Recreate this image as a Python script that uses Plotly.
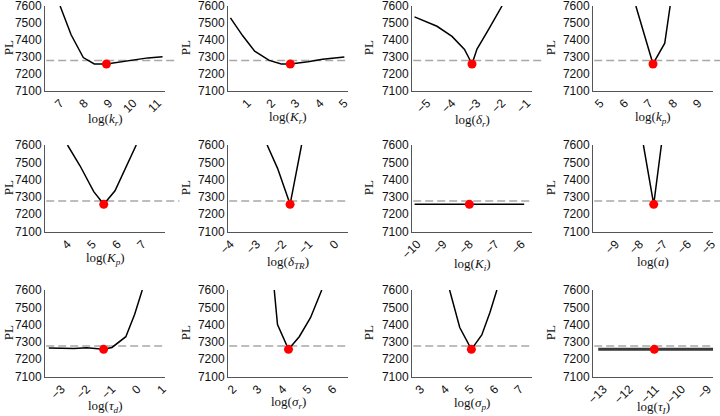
import plotly.graph_objects as go

# ---------------- data ----------------
PL_MIN = 7257
PL_THRESHOLD = 7277

kr_x = [7.0, 7.45, 7.95, 8.4, 8.9, 9.5, 10.1, 10.6, 11.2]
kr_y = [7600, 7430, 7295, 7257, 7257, 7270, 7285, 7293, 7300]
kr_opt = 8.9

Kr_x = [0.3, 0.8, 1.3, 1.9, 2.4, 2.77, 3.5, 4.1, 5.0]
Kr_y = [7530, 7425, 7333, 7278, 7257, 7257, 7270, 7285, 7298]
Kr_opt = 2.77

dr_x = [-5.5, -4.6, -4.0, -3.5, -3.2, -3.0, -2.5, -2.0]
dr_y = [7536, 7480, 7420, 7343, 7257, 7345, 7470, 7600]
dr_opt = -3.2

kp_x = [6.45, 7.15, 7.63, 7.85]
kp_y = [7600, 7257, 7380, 7600]
kp_opt = 7.15

Kp_x = [4.0, 4.5, 5.05, 5.45, 5.9, 6.35, 6.75]
Kp_y = [7600, 7480, 7330, 7257, 7335, 7470, 7600]
Kp_opt = 5.45

dTR_x = [-2.6, -2.2, -1.72, -1.28]
dTR_y = [7600, 7465, 7257, 7600]
dTR_opt = -1.72

Ki_x = [-10.1, -9.0, -8.0, -7.0, -5.9]
Ki_y = [7257, 7257, 7257, 7257, 7257]
Ki_opt = -8.0

a_x = [-7.85, -7.42, -7.1]
a_y = [7600, 7257, 7600]
a_opt = -7.42

td_x = [-3.5, -3.0, -2.5, -2.0, -1.5, -1.33, -1.0, -0.45, -0.1, 0.2]
td_y = [7265, 7263, 7262, 7266, 7258, 7257, 7268, 7330, 7460, 7600]
td_opt = -1.33

sr_x = [3.65, 3.78, 4.22, 4.65, 5.1, 5.55]
sr_y = [7600, 7400, 7257, 7330, 7440, 7600]
sr_opt = 4.22

sp_x = [4.17, 4.58, 5.05, 5.47, 5.8, 6.08]
sp_y = [7600, 7383, 7257, 7340, 7470, 7600]
sp_opt = 5.05

tI_x = [-13.2, -12.0, -11.0, -10.0, -8.8]
tI_y = [7257, 7257, 7257, 7257, 7257]
tI_opt = -11.05

y_ticks = [7100, 7200, 7300, 7400, 7500, 7600]
y_title = "PL"

titles = ["log(<i>k<sub>r</sub></i>)", "log(<i>K<sub>r</sub></i>)", "log(<i>δ<sub>r</sub></i>)", "log(<i>k<sub>p</sub></i>)",
          "log(<i>K<sub>p</sub></i>)", "log(<i>δ<sub>TR</sub></i>)", "log(<i>K<sub>i</sub></i>)", "log(<i>a</i>)",
          "log(<i>τ<sub>d</sub></i>)", "log(<i>σ<sub>r</sub></i>)", "log(<i>σ<sub>p</sub></i>)", "log(<i>τ<sub>I</sub></i>)"]
x_tickvals = [[7, 8, 9, 10, 11], [1, 2, 3, 4, 5], [-5, -4, -3, -2, -1], [5, 6, 7, 8, 9],
              [4, 5, 6, 7], [-4, -3, -2, -1, 0], [-10, -9, -8, -7, -6], [-9, -8, -7, -6, -5],
              [-3, -2, -1, 0, 1], [2, 3, 4, 5, 6], [3, 4, 5, 6, 7], [-13, -12, -11, -10, -9]]

series = [(kr_x, kr_y, kr_opt), (Kr_x, Kr_y, Kr_opt), (dr_x, dr_y, dr_opt), (kp_x, kp_y, kp_opt),
          (Kp_x, Kp_y, Kp_opt), (dTR_x, dTR_y, dTR_opt), (Ki_x, Ki_y, Ki_opt), (a_x, a_y, a_opt),
          (td_x, td_y, td_opt), (sr_x, sr_y, sr_opt), (sp_x, sp_y, sp_opt), (tI_x, tI_y, tI_opt)]

# ---------------- layout / style ----------------
W, H = 720, 416
x_ranges = [[6.38, 11.3], [0.2, 5.15], [-5.6, -0.8], [4.7, 9.6],
            [3.1, 7.9], [-4.1, 0.5], [-10.2, -5.6], [-9.95, -4.95],
            [-3.65, 1.1], [1.8, 6.6], [2.65, 7.5], [-13.4, -8.8]]
dash_end = [1.11, 1.0, 1.08, 1.06, 1.12, 1.0, 0.98, 1.06, 1.0, 1.0, 1.0, 0.98]
title_off = [29, 27, 30, 27, 27, 31, 33, 30, 30, 25.5, 27, 31]
pl_off = [37, 43, 44, 43]
col_left = [45, 228, 412, 593]
col_w = 120
row_top = [6, 145, 290]
row_h = 86.5

fig = go.Figure()
shapes = []
annotations = []
tick_font = dict(family="Liberation Sans, Arial, sans-serif", size=12, color="#111")
title_font = dict(family="Liberation Serif, DejaVu Serif, serif", size=13, color="#111")

for i, (xs, ys, xo) in enumerate(series):
    r, c = divmod(i, 4)
    n = "" if i == 0 else str(i + 1)
    xd = [col_left[c] / W, (col_left[c] + col_w) / W]
    top = row_top[r]
    h = row_h - (2 if r == 0 else 0)
    yd = [1 - (top + h) / H, 1 - top / H]
    thick = i == 11
    fig.add_trace(go.Scatter(x=xs, y=ys, mode="lines",
                             line=dict(color="#3a3a3a" if thick else "black", width=3 if thick else 1.5),
                             xaxis="x" + n, yaxis="y" + n, showlegend=False, hoverinfo="skip"))
    fig.add_trace(go.Scatter(x=[xo], y=[PL_MIN], mode="markers",
                             marker=dict(color="#ff0000", size=9),
                             xaxis="x" + n, yaxis="y" + n, showlegend=False, hoverinfo="skip"))
    shapes.append(dict(type="line", xref=f"x{n} domain", yref="y" + n, x0=0.01, x1=dash_end[i],
                       y0=PL_THRESHOLD, y1=PL_THRESHOLD,
                       line=dict(color="#a8a8a8", width=1.5, dash="8px,4px"), layer="below"))
    annotations.append(dict(text=titles[i], xref=f"x{n} domain", yref=f"y{n} domain", x=0.5, y=0,
                            yshift=-title_off[i], xanchor="center", yanchor="middle",
                            showarrow=False, font=title_font))
    annotations.append(dict(text=y_title, xref=f"x{n} domain", yref=f"y{n} domain", x=0, y=0.5,
                            xshift=-pl_off[c], xanchor="center", yanchor="middle", textangle=-90,
                            showarrow=False, font=title_font))
    fig.layout["xaxis" + n] = dict(domain=xd, anchor="y" + n, range=x_ranges[i], tickvals=x_tickvals[i],
                                   tickangle=-45, showline=True, linecolor="#555", linewidth=1,
                                   showgrid=False, zeroline=False, ticks="", tickfont=tick_font,
                                   ticklabeloverflow="allow", automargin=False)
    fig.layout["yaxis" + n] = dict(domain=yd, anchor="x" + n, range=[7100, 7600], tickvals=y_ticks,
                                   showline=True, linecolor="#555", linewidth=1,
                                   showgrid=False, zeroline=False, ticks="", tickfont=tick_font,
                                   ticklabeloverflow="allow", automargin=False)

fig.update_layout(width=W, height=H, margin=dict(l=0, r=0, t=0, b=0),
                  plot_bgcolor="white", paper_bgcolor="white", shapes=shapes, annotations=annotations)
fig.write_html("out.html", config={"displayModeBar": False},
               post_script="document.body.style.margin='0';document.body.style.overflow='hidden';")
